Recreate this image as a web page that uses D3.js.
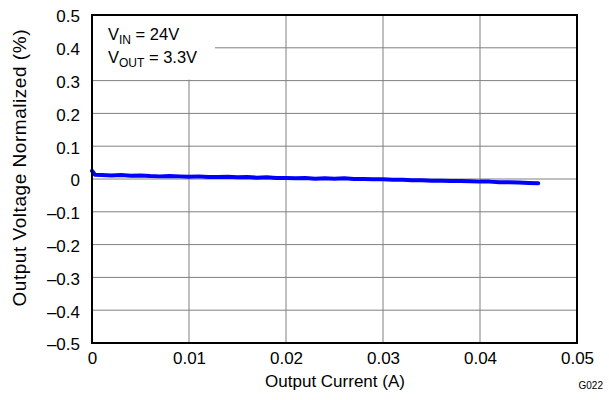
<!DOCTYPE html>
<html><head><meta charset="utf-8">
<script src="https://cdn.jsdelivr.net/npm/d3@7"></script>
<style>body{margin:0;background:#fff}svg{display:block;font-family:"Liberation Sans",Arial,sans-serif}</style>
</head><body><svg id="c" width="609" height="400"></svg>
<script>
const currentA = [0, 0.0003, 0.001, 0.002, 0.003, 0.004, 0.005, 0.006, 0.007, 0.008, 0.009, 0.010, 0.011, 0.012, 0.013, 0.014, 0.015, 0.016, 0.017, 0.018, 0.019, 0.020, 0.021, 0.022, 0.023, 0.024, 0.025, 0.026, 0.027, 0.028, 0.029, 0.030, 0.031, 0.032, 0.033, 0.034, 0.035, 0.036, 0.037, 0.038, 0.039, 0.040, 0.041, 0.042, 0.043, 0.044, 0.045, 0.046];
const voltNorm = [0.025, 0.013, 0.012, 0.011, 0.012, 0.010, 0.011, 0.009, 0.008, 0.009, 0.008, 0.007, 0.008, 0.006, 0.006, 0.007, 0.005, 0.006, 0.004, 0.005, 0.003, 0.003, 0.002, 0.003, 0.001, 0.002, 0.001, 0.002, 0.000, 0.000, -0.001, -0.001, -0.002, -0.002, -0.004, -0.004, -0.005, -0.005, -0.006, -0.006, -0.007, -0.008, -0.008, -0.010, -0.010, -0.011, -0.012, -0.013];
const xTicks = [0, 0.01, 0.02, 0.03, 0.04, 0.05];
const xTickLabels = ["0", "0.01", "0.02", "0.03", "0.04", "0.05"];
const yTicks = [-0.5, -0.4, -0.3, -0.2, -0.1, 0, 0.1, 0.2, 0.3, 0.4, 0.5];
const yTickLabels = ["\u20130.5", "\u20130.4", "\u20130.3", "\u20130.2", "\u20130.1", "0", "0.1", "0.2", "0.3", "0.4", "0.5"];

const svg = d3.select("#c");
const L = 92, R = 577, T = 15, B = 343;
const x = d3.scaleLinear().domain([0, 0.05]).range([L, R]);
const y = d3.scaleLinear().domain([-0.5, 0.5]).range([B, T]);

// grid
const g = svg.append("g");
g.selectAll("line.v").data(xTicks.slice(1, -1)).enter().append("line")
  .attr("x1", d => x(d)).attr("x2", d => x(d)).attr("y1", T).attr("y2", B)
  .attr("stroke", "#808080").attr("stroke-width", 1);
g.selectAll("line.h").data(yTicks.slice(1, -1)).enter().append("line")
  .attr("x1", L).attr("x2", R).attr("y1", d => y(d)).attr("y2", d => y(d))
  .attr("stroke", "#808080").attr("stroke-width", 1);

// legend box (covers grid)
svg.append("rect").attr("x", L).attr("y", T).attr("width", 123).attr("height", y(0.3) - T - 1).attr("fill", "#fff");
const t1 = svg.append("text").attr("x", 108).attr("y", 40).attr("font-size", 16.5);
t1.append("tspan").text("V");
t1.append("tspan").attr("font-size", 12).attr("dy", 4).text("IN");
t1.append("tspan").attr("dy", -4).text(" = 24V");
const t2 = svg.append("text").attr("x", 108).attr("y", 63).attr("font-size", 16.5);
t2.append("tspan").text("V");
t2.append("tspan").attr("font-size", 12).attr("dy", 4).text("OUT");
t2.append("tspan").attr("dy", -4).text(" = 3.3V");

// data line
const line = d3.line().x((d, i) => x(currentA[i])).y(d => y(d)).curve(d3.curveLinear);
svg.append("path").datum(voltNorm).attr("d", line)
  .attr("fill", "none").attr("stroke", "#0000ff").attr("stroke-width", 4)
  .attr("stroke-linejoin", "round").attr("stroke-linecap", "round");

// border
svg.append("rect").attr("x", L).attr("y", T).attr("width", R - L).attr("height", B - T)
  .attr("fill", "none").attr("stroke", "#000").attr("stroke-width", 2);

// axes labels
const xa = d3.axisBottom(x).tickValues(xTicks).tickFormat((d, i) => xTickLabels[i]).tickSize(0).tickPadding(9);
const xg = svg.append("g").attr("transform", `translate(0,${B})`).call(xa);
const ya = d3.axisLeft(y).tickValues(yTicks).tickFormat((d, i) => yTickLabels[i]).tickSize(0).tickPadding(12);
const yg = svg.append("g").attr("transform", `translate(${L},0)`).call(ya);
[xg, yg].forEach(a => {
  a.select(".domain").remove();
  a.selectAll("text").attr("font-size", 17).attr("fill", "#000").attr("font-family", "Liberation Sans, Arial, sans-serif");
});
yg.selectAll("text").attr("dy", "0.4em");

svg.append("text").attr("x", 335).attr("y", 387).attr("text-anchor", "middle")
  .attr("font-size", 17).text("Output Current (A)");
svg.append("text").attr("transform", `translate(26,168) rotate(-90)`).attr("text-anchor", "middle")
  .attr("font-size", 19).attr("textLength", 277).attr("lengthAdjust", "spacing")
  .text("Output Voltage Normalized (%)");
svg.append("text").attr("x", 603).attr("y", 389).attr("text-anchor", "end")
  .attr("font-size", 10).text("G022");
</script></body></html>
